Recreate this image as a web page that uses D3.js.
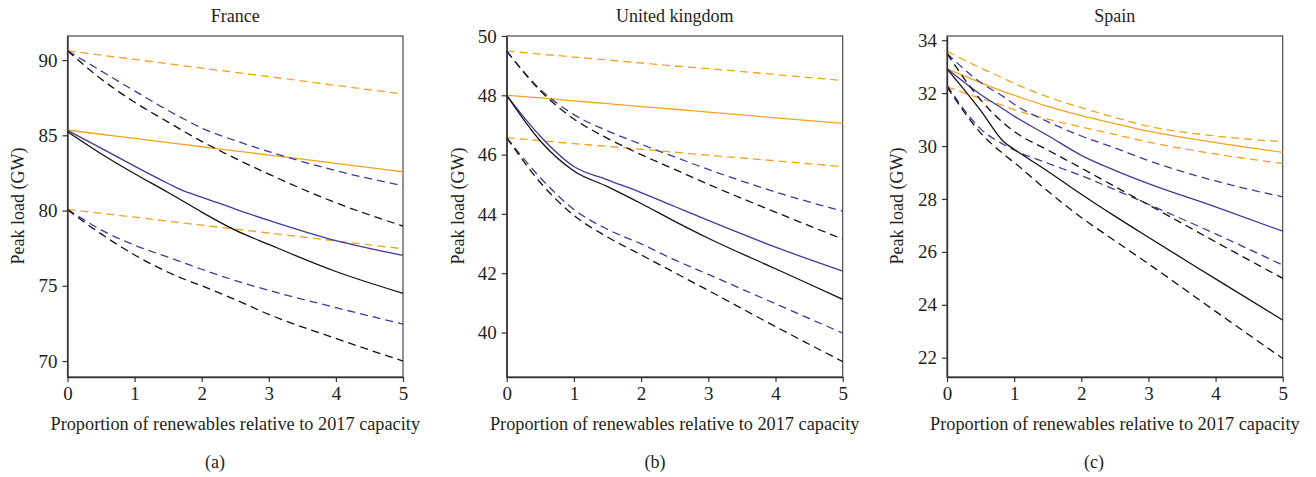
<!DOCTYPE html>
<html><head><meta charset="utf-8">
<script src="https://cdn.jsdelivr.net/npm/d3@7"></script>
<style>
html,body{margin:0;padding:0;background:#fff;}
svg text{font-family:"Liberation Serif","DejaVu Serif",serif;fill:#231f20;}
</style></head>
<body><svg id="c" width="1316" height="477"></svg>
<script>
// ---------- data ----------
const xTicks = [0, 1, 2, 3, 4, 5];
const xLabel = "Proportion of renewables relative to 2017 capacity";
const yLabel = "Peak load (GW)";

// France
const frX = [0, 0.5, 1, 1.5, 1.75, 2, 2.5, 3, 4, 5];
const frOrangeHi  = [90.62, 90.33, 90.04, 89.76, 89.61, 89.47, 89.18, 88.90, 88.32, 87.74];
const frOrangeMid = [85.35, 85.07, 84.80, 84.52, 84.38, 84.24, 83.97, 83.69, 83.13, 82.58];
const frOrangeLo  = [80.08, 79.82, 79.56, 79.29, 79.16, 79.03, 78.77, 78.51, 77.98, 77.46];
const frBlueHi    = [90.62, 89.28, 87.95, 86.65, 86.05, 85.48, 84.65, 83.92, 82.65, 81.65];
const frBlueMid   = [85.33, 84.15, 82.95, 81.80, 81.27, 80.90, 80.10, 79.35, 78.00, 77.02];
const frBlueLo    = [80.08, 78.72, 77.70, 76.90, 76.50, 76.10, 75.35, 74.70, 73.55, 72.46];
const frBlackHi   = [90.62, 88.75, 87.20, 85.88, 85.22, 84.60, 83.47, 82.42, 80.52, 78.97];
const frBlackMid  = [85.24, 83.78, 82.45, 81.20, 80.55, 79.90, 78.70, 77.75, 75.95, 74.50];
const frBlackLo   = [80.05, 78.45, 77.05, 75.90, 75.42, 75.00, 74.08, 73.10, 71.50, 70.00];
const frYTicks = [70, 75, 80, 85, 90];

// United kingdom
const ukX = [0, 0.5, 1, 1.5, 2, 2.5, 3, 4, 5];
const ukOrangeHi  = [49.49, 49.39, 49.29, 49.19, 49.09, 48.99, 48.90, 48.70, 48.50];
const ukOrangeMid = [48.00, 47.91, 47.81, 47.72, 47.62, 47.53, 47.43, 47.24, 47.05];
const ukOrangeLo  = [46.57, 46.47, 46.37, 46.28, 46.18, 46.08, 45.98, 45.79, 45.59];
const ukBlueHi    = [49.49, 48.20, 47.35, 46.80, 46.35, 45.92, 45.50, 44.74, 44.09];
const ukBlueMid   = [48.00, 46.62, 45.60, 45.15, 44.72, 44.25, 43.78, 42.88, 42.07];
const ukBlueLo    = [46.57, 45.22, 44.15, 43.48, 42.99, 42.45, 41.96, 40.97, 39.98];
const ukBlackHi   = [49.49, 48.15, 47.20, 46.55, 46.00, 45.50, 45.00, 44.06, 43.15];
const ukBlackMid  = [48.00, 46.46, 45.45, 44.92, 44.35, 43.75, 43.18, 42.15, 41.12];
const ukBlackLo   = [46.57, 45.06, 43.95, 43.22, 42.62, 42.02, 41.42, 40.20, 39.02];
const ukYTicks = [40, 42, 44, 46, 48, 50];

// Spain
const spX = [0, 0.5, 0.85, 1, 1.5, 2, 2.5, 3, 4, 5];
const spOrangeHi  = [33.58, 32.95, 32.55, 32.37, 31.86, 31.45, 31.08, 30.75, 30.38, 30.16];
const spOrangeMid = [32.92, 32.40, 32.05, 31.92, 31.50, 31.15, 30.85, 30.56, 30.13, 29.76];
const spOrangeLo  = [32.24, 31.80, 31.52, 31.38, 31.02, 30.72, 30.44, 30.15, 29.70, 29.34];
const spBlueHi    = [33.50, 32.40, 31.85, 31.58, 30.92, 30.38, 29.93, 29.45, 28.68, 28.08];
const spBlueMid   = [32.92, 31.95, 31.38, 31.13, 30.40, 29.65, 29.08, 28.58, 27.70, 26.78];
const spBlueLo    = [32.30, 30.65, 30.05, 29.85, 29.35, 28.88, 28.35, 27.80, 26.68, 25.50];
const spBlackHi   = [33.50, 31.75, 30.85, 30.55, 29.85, 29.17, 28.47, 27.78, 26.38, 25.00];
const spBlackMid  = [32.92, 31.35, 30.15, 29.88, 29.05, 28.18, 27.35, 26.55, 24.98, 23.42];
const spBlackLo   = [32.24, 30.50, 29.68, 29.38, 28.30, 27.30, 26.42, 25.55, 23.75, 21.97];
const spYTicks = [22, 24, 26, 28, 30, 32, 34];

// ---------- build ----------
const ORANGE = "#f7a21b", BLUE = "#3d3a9c", BLACK = "#111111";
function seriesSet(xs, oh, om, ol, bh, bm, bl, kh, km, kl) {
  return [
    {xs, v: oh, c: ORANGE, d: true}, {xs, v: om, c: ORANGE, d: false}, {xs, v: ol, c: ORANGE, d: true},
    {xs, v: bh, c: BLUE, d: true},   {xs, v: bm, c: BLUE, d: false},   {xs, v: bl, c: BLUE, d: true},
    {xs, v: kh, c: BLACK, d: true},  {xs, v: km, c: BLACK, d: false},  {xs, v: kl, c: BLACK, d: true}
  ];
}
const panels = [
  {title: "France", tag: "(a)", left: 67.5, right: 403, yDom: [68.94, 91.6], yTicks: frYTicks, tagX: 215, yLabX: 18,
   series: seriesSet(frX, frOrangeHi, frOrangeMid, frOrangeLo, frBlueHi, frBlueMid, frBlueLo, frBlackHi, frBlackMid, frBlackLo)},
  {title: "United kingdom", tag: "(b)", left: 506.7, right: 842.7, yDom: [38.5, 50], yTicks: ukYTicks, tagX: 655, yLabX: 458,
   series: seriesSet(ukX, ukOrangeHi, ukOrangeMid, ukOrangeLo, ukBlueHi, ukBlueMid, ukBlueLo, ukBlackHi, ukBlackMid, ukBlackLo)},
  {title: "Spain", tag: "(c)", left: 947, right: 1282.7, yDom: [21.27, 34.16], yTicks: spYTicks, tagX: 1094, yLabX: 897,
   series: seriesSet(spX, spOrangeHi, spOrangeMid, spOrangeLo, spBlueHi, spBlueMid, spBlueLo, spBlackHi, spBlackMid, spBlackLo)}
];

const svg = d3.select("#c");
const plotTop = 36, plotBottom = 377;
const FS = 18, TFS = 19;

panels.forEach(p => {
  const x = d3.scaleLinear().domain([0, 5]).range([p.left, p.right]);
  const y = d3.scaleLinear().domain(p.yDom).range([plotBottom, plotTop]);
  const g = svg.append("g");

  g.append("rect").attr("x", p.left).attr("y", plotTop).attr("width", p.right - p.left).attr("height", plotBottom - plotTop)
    .attr("fill", "none").attr("stroke", "#4a4a4a").attr("stroke-width", 1.2);

  const line = d3.line().x(d => x(d[0])).y(d => y(d[1])).curve(d3.curveMonotoneX);
  p.series.forEach(s => {
    g.append("path").datum(s.xs.map((xv, i) => [xv, s.v[i]]))
      .attr("d", line).attr("fill", "none").attr("stroke", s.c).attr("stroke-width", 1.3)
      .attr("stroke-dasharray", s.d ? "8,5" : null);
  });

  const ax = g.append("g").attr("transform", `translate(0,${plotBottom})`)
    .call(d3.axisBottom(x).tickValues(xTicks).tickFormat(d3.format("d")).tickSize(5).tickPadding(5).tickSizeOuter(0));
  const ay = g.append("g").attr("transform", `translate(${p.left},0)`)
    .call(d3.axisLeft(y).tickValues(p.yTicks).tickFormat(d3.format("d")).tickSize(5).tickPadding(5).tickSizeOuter(0));
  [ax, ay].forEach(a => {
    a.select(".domain").attr("stroke", "#333").attr("stroke-width", 1.4);
    a.selectAll(".tick line").attr("stroke", "#333").attr("stroke-width", 1.2);
    a.selectAll(".tick text").attr("font-size", TFS).attr("font-family", null).style("fill", "#231f20");
  });

  const cx = (p.left + p.right) / 2;
  g.append("text").attr("x", cx).attr("y", 21.5).attr("text-anchor", "middle").attr("font-size", FS).text(p.title);
  g.append("text").attr("x", cx).attr("y", 430).attr("text-anchor", "middle").attr("font-size", 18.3).text(xLabel);
  g.append("text").attr("x", p.tagX).attr("y", 468).attr("text-anchor", "middle").attr("font-size", FS).text(p.tag);
  g.append("text").attr("transform", `translate(${p.yLabX + 6},206) rotate(-90)`).attr("text-anchor", "middle")
    .attr("font-size", FS).text(yLabel);
});
</script></body></html>
